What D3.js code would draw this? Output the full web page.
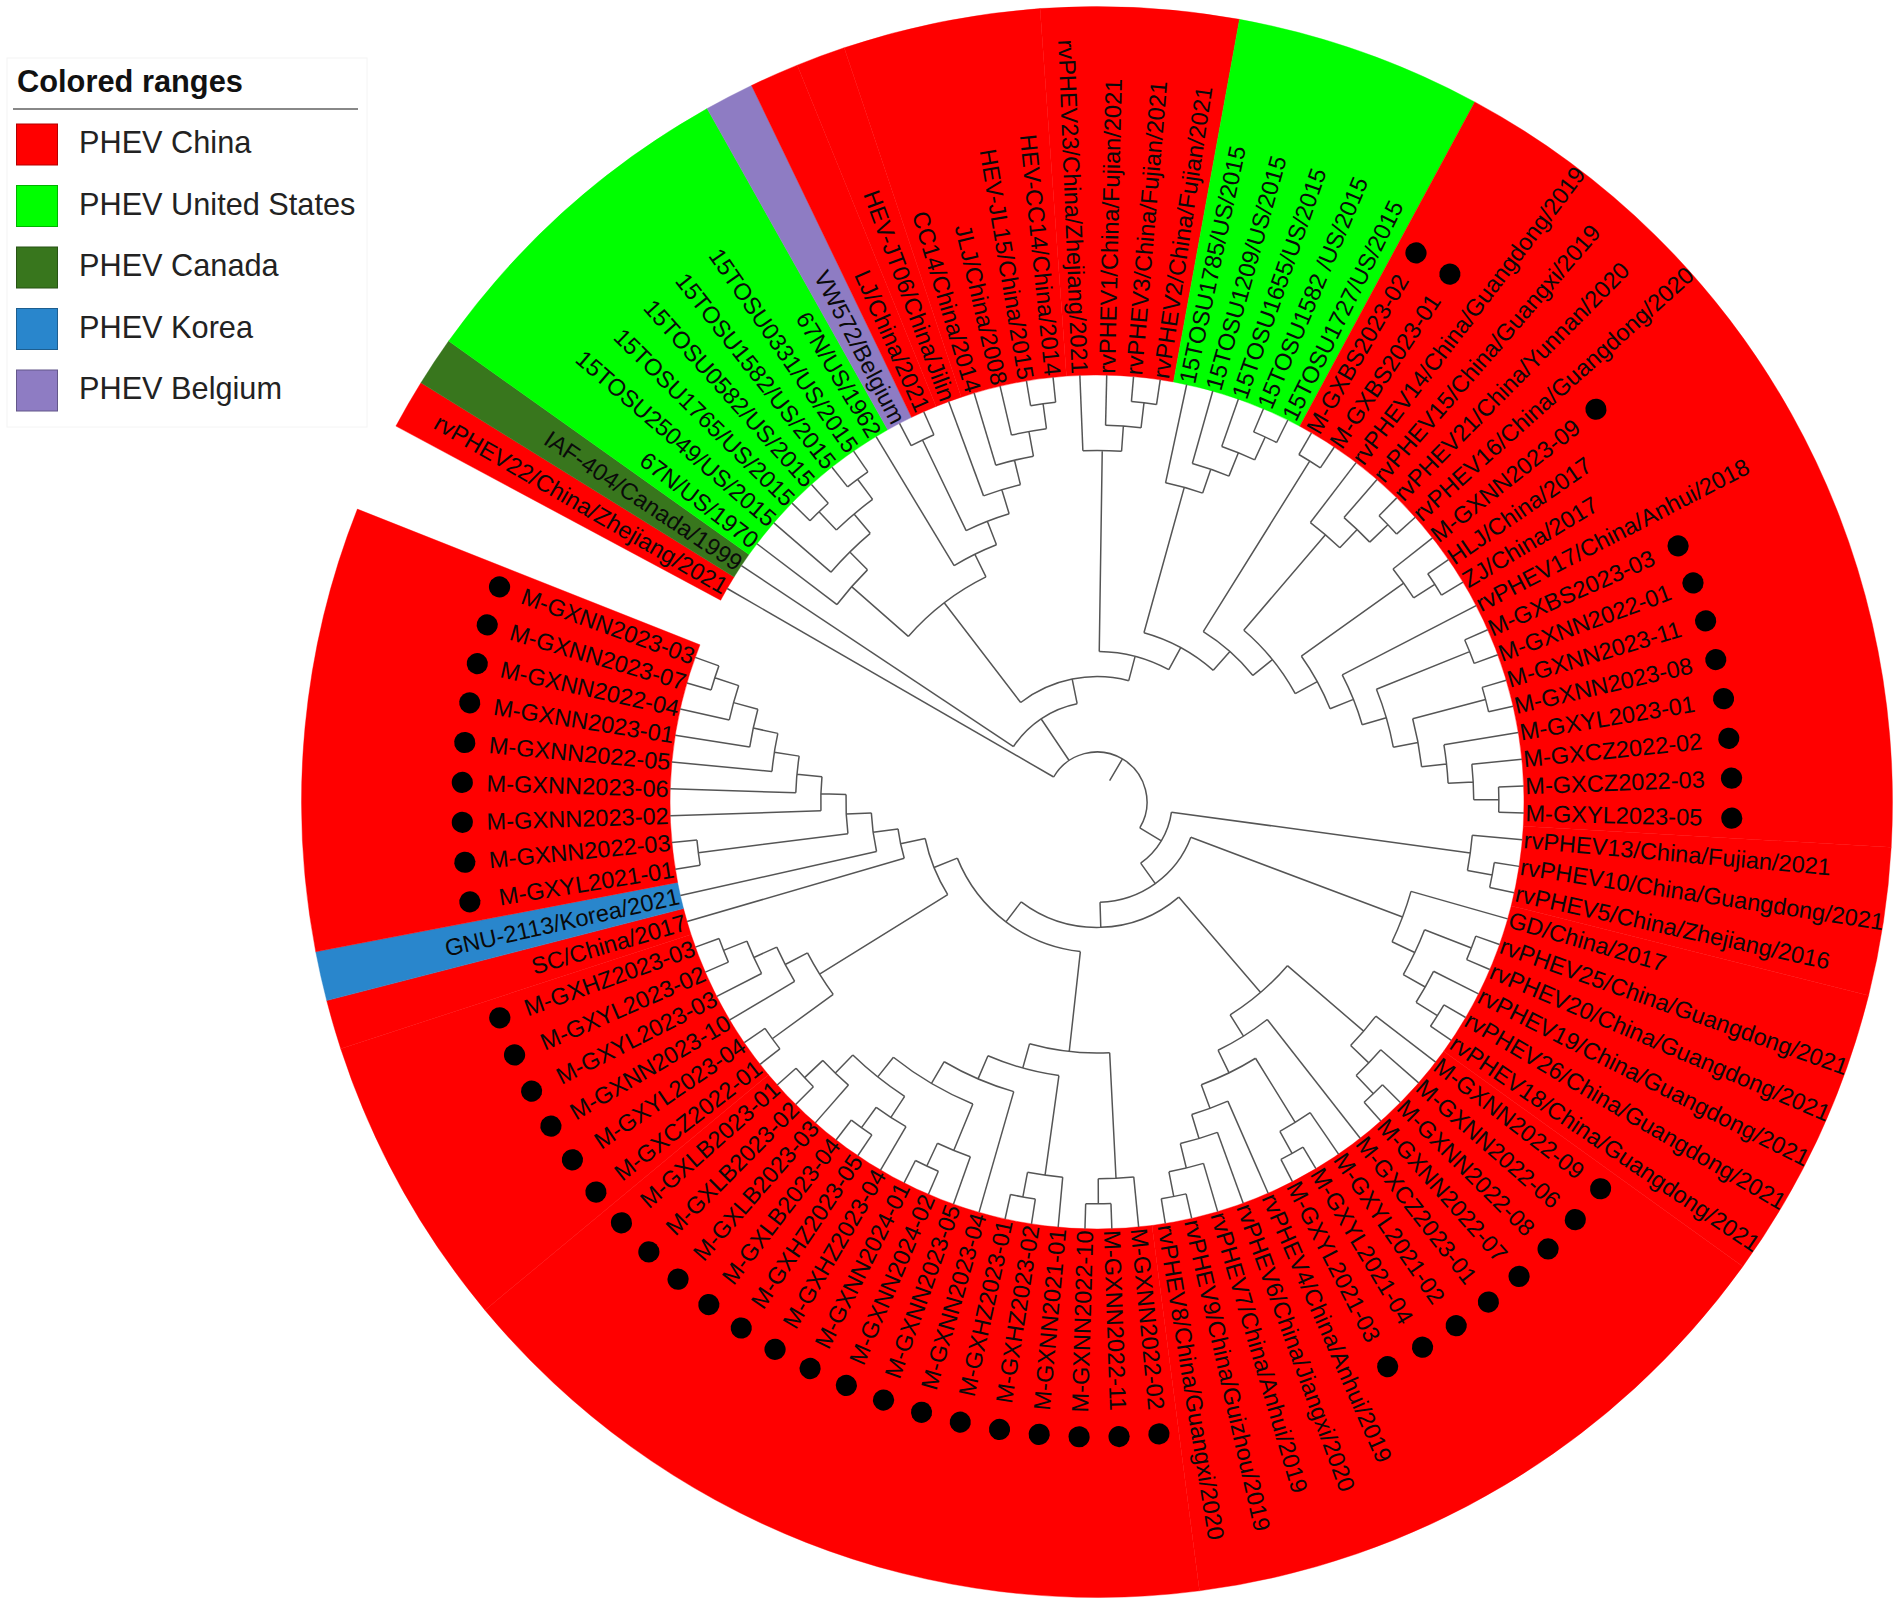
<!DOCTYPE html>
<html lang="en">

<head>
  <meta charset="UTF-8">
  <script src="https://cdn.jsdelivr.net/npm/d3@7"></script>
  <title>PHEV tree</title>
  <style>
    body {
      margin: 0;
      background: white;
    }

    text {
      font-family: "Liberation Sans", Arial, sans-serif;
    }

    .branch {
      fill: none;
      stroke: #555;
      stroke-width: 1.5;
    }

    .leaf-label {
      font-size: 23.6px;
      fill: #0a0a0a;
    }
  </style>
</head>

<body>

  <script>
    /***************************************Data********************************/
    // tips clockwise, starting right after the gap at the upper left
    const leafNames = [
      "rvPHEV22/China/Zhejiang/2021", "IAF-404/Canada/1999", "67N/US/1970", "15TOSU25049/US/2015",
      "15TOSU1765/US/2015", "15TOSU0582/US/2015", "15TOSU1582/US/2015", "15TOSU0331/US/2015",
      "67N/US/1962", "VW572/Belgium", "LJ/China/2021", "HEV-JT06/China/Jilin", "CC14/China/2014",
      "JLJ/China/2008", "HEV-JL15/China/2015", "HEV-CC14/China/2014", "rvPHEV23/China/Zhejiang/2021",
      "rvPHEV1/China/Fujian/2021", "rvPHEV3/China/Fujian/2021", "rvPHEV2/China/Fujian/2021",
      "15TOSU1785/US/2015", "15TOSU1209/US/2015", "15TOSU1655/US/2015", "15TOSU1582 /US/2015",
      "15TOSU1727/US/2015", "M-GXBS2023-02", "M-GXBS2023-01", "rvPHEV14/China/Guangdong/2019",
      "rvPHEV15/China/Guangxi/2019", "rvPHEV21/China/Yunnan/2020", "rvPHEV16/China/Guangdong/2020",
      "M-GXNN2023-09", "HLJ/China/2017", "ZJ/China/2017", "rvPHEV17/China/Anhui/2018",
      "M-GXBS2023-03", "M-GXNN2022-01", "M-GXNN2023-11", "M-GXNN2023-08", "M-GXYL2023-01",
      "M-GXCZ2022-02", "M-GXCZ2022-03", "M-GXYL2023-05", "rvPHEV13/China/Fujian/2021",
      "rvPHEV10/China/Guangdong/2021", "rvPHEV5/China/Zhejiang/2016", "GD/China/2017",
      "rvPHEV25/China/Guangdong/2021", "rvPHEV20/China/Guangdong/2021", "rvPHEV19/China/Guangdong/2021",
      "rvPHEV26/China/Guangdong/2021", "rvPHEV18/China/Guangdong/2021", "M-GXNN2022-09",
      "M-GXNN2022-06", "M-GXNN2022-08", "M-GXNN2022-07", "M-GXCZ2023-01", "M-GXYL2021-02",
      "M-GXYL2021-04", "M-GXYL2021-03", "rvPHEV4/China/Anhui/2019", "rvPHEV6/China/Jiangxi/2020",
      "rvPHEV7/China/Anhui/2019", "rvPHEV9/China/Guizhou/2019", "rvPHEV8/China/Guangxi/2020",
      "M-GXNN2022-02", "M-GXNN2022-11", "M-GXNN2022-10", "M-GXNN2021-01", "M-GXHZ2023-02",
      "M-GXHZ2023-01", "M-GXNN2023-04", "M-GXNN2023-05", "M-GXNN2024-02", "M-GXNN2024-01",
      "M-GXHZ2023-04", "M-GXHZ2023-05", "M-GXLB2023-04", "M-GXLB2023-03", "M-GXLB2023-02",
      "M-GXLB2023-01", "M-GXCZ2022-01", "M-GXYL2023-04", "M-GXNN2023-10", "M-GXYL2023-03",
      "M-GXYL2023-02", "M-GXHZ2023-03", "SC/China/2017", "GNU-2113/Korea/2021", "M-GXYL2021-01",
      "M-GXNN2022-03", "M-GXNN2023-02", "M-GXNN2023-06", "M-GXNN2022-05", "M-GXNN2023-01",
      "M-GXNN2022-04", "M-GXNN2023-07", "M-GXNN2023-03"
    ];

    // tree topology, numbers are 1-based positions in leafNames
    const cladeA = [3, [4, [[5, 6], [7, 8]]]];
    const cladeB = [9, [[10, 11], [12, [13, [14, [15, 16]]]]]];
    const cladeC = [17, [18, [19, 20]]];
    const cladeD = [21, [22, [23, [24, 25]]]];
    const cladeE = [28, [29, [30, 31]]];
    const cladeF = [[32, [33, 34]], [35, [[36, 37], [[38, 39], [40, [41, [42, 43]]]]]]];
    const cladeG = [44, [45, 46]];
    const cladeH = [47, [[48, 49], [50, [51, 52]]]];
    const cladeI = [53, [54, [55, 56]]];
    const cladeJ = [57, [[58, [59, 60]], [61, [62, [63, [64, 65]]]]]];
    const cladeK = [[66, [67, 68]], [[69, [70, 71]], [72, [[73, [74, 75]], [[76, [77, 78]], [79, [80, 81]]]]]]];
    const cladeL = [[82, 83], [84, [85, [86, 87]]]];
    const cladeM = [88, [89, [[90, 91], [92, [93, [94, [95, [96, [97, 98]]]]]]]]];

    const upperTree = [2, [[cladeA, cladeB], [cladeC, [cladeD, [[26, 27], [cladeE, cladeF]]]]]];
    const lowerTree = [cladeG, [cladeH, [[cladeI, cladeJ], [cladeK, [cladeL, cladeM]]]]];
    const treeTopology = [1, upperTree, lowerTree];

    // colored ranges: first tip, last tip, group
    const rangeFirst = [1, 2, 3, 10, 11, 12, 13, 17, 21, 26, 44, 47, 53, 66, 82, 88, 89, 90];
    const rangeLast = [1, 2, 9, 10, 11, 12, 16, 20, 25, 43, 46, 52, 65, 81, 87, 88, 89, 98];
    const rangeGroup = [
      "PHEV China", "PHEV Canada", "PHEV United States", "PHEV Belgium", "PHEV China", "PHEV China",
      "PHEV China", "PHEV China", "PHEV United States", "PHEV China", "PHEV China", "PHEV China",
      "PHEV China", "PHEV China", "PHEV China", "PHEV China", "PHEV Korea", "PHEV China"
    ];

    const legendTitle = "Colored ranges";
    const legendGroups = ["PHEV China", "PHEV United States", "PHEV Canada", "PHEV Korea", "PHEV Belgium"];

    /***************************************Scales********************************/
    const svg = d3.select('body').append('svg')
      .attr('width', 1902)
      .attr('height', 1606)
      .style('display', 'block');

    const colorScale = d3.scaleOrdinal()
      .domain(legendGroups)
      .range(['#ff0000', '#00ff00', '#38761d', '#2986cc', '#8e7cc3']);

    // degrees clockwise from north
    const angleScale = d3.scaleLinear().domain([1, leafNames.length]).range([300, 649.8]);
    const angleStep = angleScale(2) - angleScale(1);

    const root = d3.hierarchy(treeTopology, d => Array.isArray(d) ? d : null);

    // every tip sits on the ring, a node moves one step in per level above its tips
    const radiusScale = d3.scaleLinear().domain([0, root.height]).range([427, 50]);
    const toRad = deg => deg * Math.PI / 180;

    root.eachAfter(node => {
      if (node.children) {
        node.angle = (node.children[0].angle + node.children[node.children.length - 1].angle) / 2;
      } else {
        node.angle = angleScale(node.data);
      }
      node.radius = radiusScale(node.height);
    });

    const chart = svg.append('g').attr('transform', 'translate(1097,802)');

    /***************************************Colored ranges********************************/
    const wedge = d3.arc().innerRadius(427).outerRadius(795.5);

    chart.append('g').selectAll('path')
      .data(rangeGroup)
      .enter().append('path')
      .attr('d', (d, i) => wedge({
        startAngle: toRad(angleScale(rangeFirst[i]) - angleStep / 2),
        endAngle: toRad(angleScale(rangeLast[i]) + angleStep / 2)
      }))
      .attr('fill', d => colorScale(d))
      // thin same-colour edge so the joins stay only faintly visible
      .attr('stroke', d => colorScale(d))
      .attr('stroke-width', 0.4);

    /***************************************Branches********************************/
    function branchPath(node) {
      const p = d3.path();
      const a = toRad(node.angle - 90);
      // radial line down to the parent, the root gets a short stub
      const inner = node.parent ? node.parent.radius : radiusScale(root.height + 1);
      p.moveTo(inner * Math.cos(a), inner * Math.sin(a));
      p.lineTo(node.radius * Math.cos(a), node.radius * Math.sin(a));
      if (node.children) {
        const a0 = toRad(node.children[0].angle - 90);
        const a1 = toRad(node.children[node.children.length - 1].angle - 90);
        p.moveTo(node.radius * Math.cos(a0), node.radius * Math.sin(a0));
        p.arc(0, 0, node.radius, a0, a1);
      }
      return p.toString();
    }

    chart.append('g').selectAll('path')
      .data(root.descendants())
      .enter().append('path')
      .attr('class', 'branch')
      .attr('d', branchPath);

    /***************************************Tip labels and dots********************************/
    const leaves = root.leaves();

    chart.append('g').selectAll('text')
      .data(leaves)
      .enter().append('text')
      .attr('class', 'leaf-label')
      .attr('transform', d => {
        const right = d.angle % 360 < 180;
        return `rotate(${d.angle - 90}) translate(428.5,0)` + (right ? '' : ' rotate(180)');
      })
      .attr('text-anchor', d => d.angle % 360 < 180 ? 'start' : 'end')
      .attr('dy', '0.35em')
      .text(d => leafNames[d.data - 1]);

    chart.append('g').selectAll('circle')
      .data(leaves.filter(d => leafNames[d.data - 1].startsWith('M-')))
      .enter().append('circle')
      .attr('r', 10.6)
      .attr('fill', 'black')
      .attr('transform', d => `rotate(${d.angle - 90}) translate(635,0)`);

    /***************************************Legend********************************/
    const legend = svg.append('g');

    legend.append('rect')
      .attr('x', 7).attr('y', 58)
      .attr('width', 360).attr('height', 369)
      .attr('fill', 'white')
      .attr('stroke', '#f4f4f4');

    legend.append('text')
      .attr('x', 17).attr('y', 92)
      .attr('font-size', 30.8)
      .attr('font-weight', 'bold')
      .attr('fill', '#111')
      .text(legendTitle);

    legend.append('line')
      .attr('x1', 13).attr('x2', 358)
      .attr('y1', 109).attr('y2', 109)
      .attr('stroke', '#888')
      .attr('stroke-width', 2);

    const legendY = d3.scalePoint().domain(legendGroups).range([144, 390]);

    legend.selectAll('rect.swatch')
      .data(legendGroups)
      .enter().append('rect')
      .attr('class', 'swatch')
      .attr('x', 16.5)
      .attr('y', d => legendY(d) - 20)
      .attr('width', 41)
      .attr('height', 41)
      .attr('fill', d => colorScale(d))
      .attr('stroke', d => d3.color(colorScale(d)).darker(1))
      .attr('stroke-width', 1);

    legend.selectAll('text.item')
      .data(legendGroups)
      .enter().append('text')
      .attr('class', 'item')
      .attr('x', 79)
      .attr('y', d => legendY(d) + 9)
      .attr('font-size', 30.7)
      .attr('fill', '#222')
      .text(d => d);

  </script>
</body>

</html>
